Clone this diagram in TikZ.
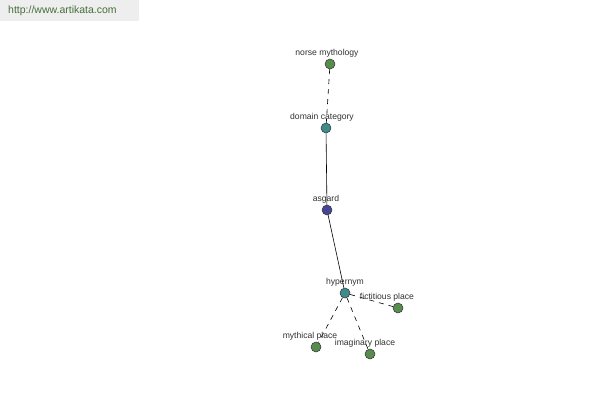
\documentclass[tikz,border=0pt]{standalone}
\usepackage{fontspec}
\setmainfont{Liberation Sans}
\definecolor{gnode}{RGB}{88,140,78}
\definecolor{tnode}{RGB}{60,140,140}
\definecolor{bnode}{RGB}{70,70,150}
\definecolor{wmbg}{RGB}{238,238,238}
\definecolor{wmtx}{RGB}{70,110,60}
\definecolor{lbl}{RGB}{50,50,50}
\tikzset{
  vert/.style={circle,draw=black!80,line width=0.5pt,minimum size=10pt,inner sep=0pt},
  gv/.style={vert,fill=gnode},
  tv/.style={vert,fill=tnode},
  bv/.style={vert,fill=bnode},
  lab/.style={font=\fontsize{8.6}{9}\selectfont,text=lbl,inner sep=0pt},
  edge/.style={line width=0.6pt,black},
  dedge/.style={edge,dash pattern=on 5pt off 5pt},
}
\begin{document}
\begin{tikzpicture}[x=1pt,y=-1pt]
\useasboundingbox (0,0) rectangle (600,400);
\fill[white] (0,0) rectangle (600,400);
\fill[wmbg] (0,0) rectangle (139,21);
\node[font=\fontsize{10.5}{11}\selectfont,text=wmtx,anchor=west,inner sep=0pt] (wm) at (8,11) {http://www.artikata.com};
\node[gv] (norse) at (330,64) {};
\node[tv] (dom) at (326,128) {};
\node[bv] (asg) at (327,210) {};
\node[tv] (hyp) at (345,293) {};
\node[gv] (fic) at (398,308) {};
\node[gv] (myth) at (316,347) {};
\node[gv] (imag) at (370,354) {};
\draw[dedge] (norse) -- (dom);
\draw[edge] (dom) -- (asg);
\draw[edge] (asg) -- (hyp);
\draw[dedge] (hyp) -- (fic);
\draw[dedge] (hyp) -- (myth);
\draw[dedge] (hyp) -- (imag);
\node[lab] (ln) at (327,53) {norse mythology};
\node[lab] (ld) at (322,117) {domain category};
\node[lab] (la) at (326,199) {asgard};
\node[lab] (lh) at (345,282) {hypernym};
\node[lab] (lf) at (387,297) {fictitious place};
\node[lab] (lm) at (310,336) {mythical place};
\node[lab] (li) at (365,343) {imaginary place};
\end{tikzpicture}
\end{document}
